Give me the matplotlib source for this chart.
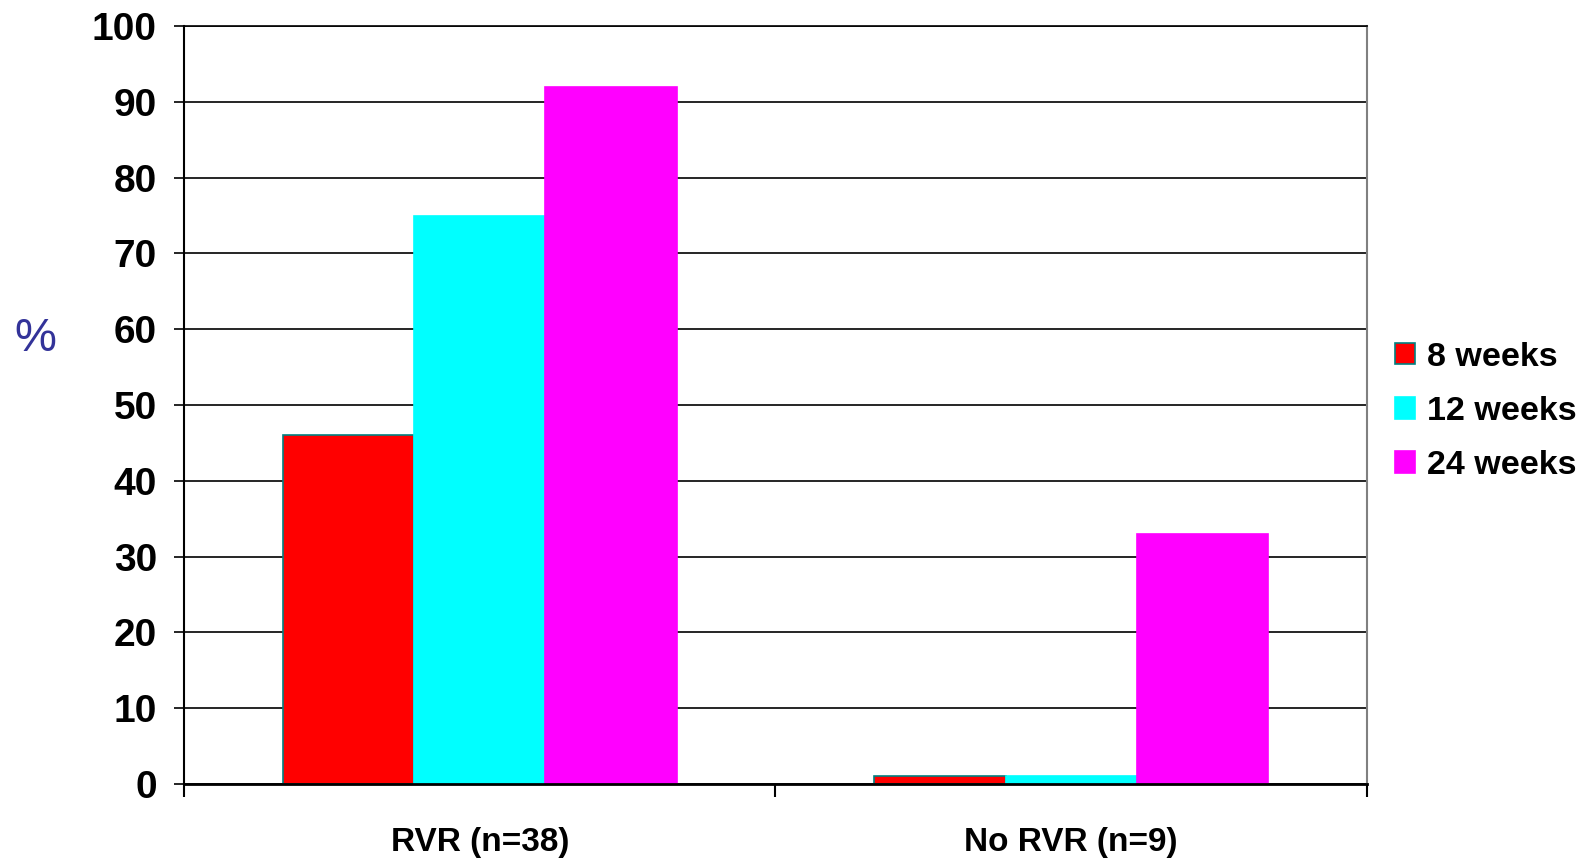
import matplotlib
matplotlib.use('Agg')
import matplotlib.pyplot as plt
import numpy as np

plt.rcParams['font.family'] = ['Liberation Sans', 'DejaVu Sans']

# data
groups = ['RVR (n=38)', 'No RVR (n=9)']
series = ['8 weeks', '12 weeks', '24 weeks']
values = {
    '8 weeks': [46, 1],
    '12 weeks': [75, 1],
    '24 weeks': [92, 33],
}
colors = ['#ff0000', '#00ffff', '#ff00ff']
edges = ['#008080', '#00ffff', '#ff00ff']
yticks = list(range(0, 101, 10))

fig = plt.figure(figsize=(15.88, 8.64), dpi=100)
ax = fig.add_axes([184 / 1588, 80 / 864, (1367 - 184) / 1588, (784 - 26) / 864])

x = np.arange(len(groups))
w = 2 / 9
for i, s in enumerate(series):
    ax.bar(x + (i - 1) * w, values[s], width=w, color=colors[i],
           edgecolor=edges[i], linewidth=1.2, label=s, zorder=3)

ax.set_xlim(-0.5, len(groups) - 0.5)
ax.set_ylim(0, 100)
ax.set_yticks(yticks)
ax.yaxis.grid(True, color='black', linewidth=1.2, zorder=1)
ax.set_axisbelow(True)

ax.set_xticks(np.arange(-0.5, len(groups), 1.0))
ax.set_xticklabels([])
ax.set_xticks(x, minor=True)
ax.set_xticklabels(groups, minor=True)
ax.tick_params(axis='x', which='major', direction='out', length=9, width=1.5, color='black')
ax.tick_params(axis='x', which='minor', length=0, pad=31, labelsize=24)
ax.tick_params(axis='y', direction='out', length=7.5, width=1.2, pad=12, labelsize=28)
for lab in ax.get_yticklabels() + ax.get_xticklabels(minor=True):
    lab.set_fontweight('bold')

ax.spines['left'].set_linewidth(1.5)
ax.spines['left'].set_color('black')
ax.spines['bottom'].set_linewidth(2)
ax.spines['bottom'].set_color('black')
ax.spines['bottom'].set_zorder(4)
ax.spines['right'].set_color('#808080')
ax.spines['right'].set_linewidth(1.5)
ax.spines['top'].set_color('black')
ax.spines['top'].set_linewidth(1.2)

fig.text(35.5 / 1588, 1 - 339 / 864, '%', color='#333399', fontsize=34,
         ha='center', va='center')

leg = ax.legend(loc='center left', bbox_to_anchor=(0.8785, 0.524),
                bbox_transform=fig.transFigure, frameon=False,
                prop={'size': 24.5, 'weight': 'bold'}, handlelength=0.6,
                handleheight=0.6, handletextpad=0.35, labelspacing=0.68,
                borderpad=0, borderaxespad=0)

fig.savefig('out.png', dpi=100, facecolor='white')
